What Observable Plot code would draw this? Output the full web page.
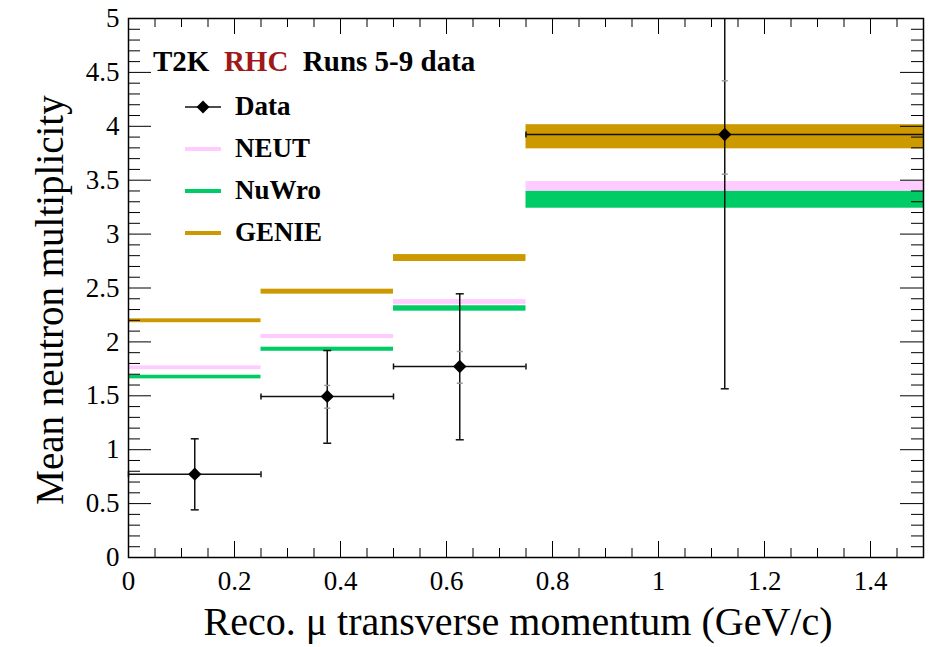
<!DOCTYPE html>
<html><head><meta charset="utf-8">
<script src="https://cdn.jsdelivr.net/npm/d3@7"></script>
<script src="https://cdn.jsdelivr.net/npm/@observablehq/plot@0.6"></script>
<style>
body{margin:0;background:#fff;}
#wrap{position:relative;width:937px;height:647px;}
#wrap svg{display:block;}
#chart svg text{font-family:"Liberation Serif","Times New Roman",serif;}
#legend{position:absolute;left:0;top:0;font-family:"Liberation Serif","Times New Roman",serif;font-weight:bold;color:#000;}
.lg{position:absolute;white-space:nowrap;line-height:1;}
</style>
</head><body><div id="wrap"><div id="chart"></div><div id="legend"></div></div>
<script>
// ---- data ----
const binLow  = [0, 0.25, 0.5, 0.75];
const binHigh = [0.25, 0.5, 0.75, 1.5];
const binCenter = [0.125, 0.375, 0.625, 1.125];
const dataValue = [0.773, 1.494, 1.772, 3.924];
const dataLow   = [0.442, 1.060, 1.092, 1.565];
const dataHigh  = [1.101, 1.920, 2.446, 6.283];
const statLow   = [null, 1.385, 1.617, 3.556];
const statHigh  = [null, 1.596, 1.911, 4.422];
const neutValue  = [1.760, 2.050, 2.370, 3.441];
const neutErr    = [0.018, 0.019, 0.022, 0.047];
const nuwroValue = [1.674, 1.932, 2.310, 3.318];
const nuwroErr   = [0.017, 0.019, 0.025, 0.078];
const genieValue = [2.196, 2.466, 2.778, 3.903];
const genieErr   = [0.018, 0.023, 0.032, 0.112];
const xMajor = [0, 0.2, 0.4, 0.6, 0.8, 1, 1.2, 1.4];
const xMinor = [0.05, 0.1, 0.15, 0.25, 0.3, 0.35, 0.45, 0.5, 0.55, 0.65, 0.7, 0.75, 0.85, 0.9, 0.95,
                1.05, 1.1, 1.15, 1.25, 1.3, 1.35, 1.45];
const yMajor = [0, 0.5, 1, 1.5, 2, 2.5, 3, 3.5, 4, 4.5, 5];
const yMinor = [0.1, 0.2, 0.3, 0.4, 0.6, 0.7, 0.8, 0.9, 1.1, 1.2, 1.3, 1.4, 1.6, 1.7, 1.8, 1.9,
                2.1, 2.2, 2.3, 2.4, 2.6, 2.7, 2.8, 2.9, 3.1, 3.2, 3.3, 3.4, 3.6, 3.7, 3.8, 3.9,
                4.1, 4.2, 4.3, 4.4, 4.6, 4.7, 4.8, 4.9];
const xTitle = "Reco. μ transverse momentum (GeV/c)";
const yTitle = "Mean neutron multiplicity";
const models = [
  {name: "NEUT",  color: "#ffccff", values: neutValue,  errs: neutErr},
  {name: "NuWro", color: "#00cc66", values: nuwroValue, errs: nuwroErr},
  {name: "GENIE", color: "#cc9900", values: genieValue, errs: genieErr}
];

// ---- tables built from arrays ----
const bands = models.flatMap(m => m.values.map((v, i) => ({
  model: m.name, color: m.color, x1: binLow[i], x2: binHigh[i], y1: v - m.errs[i], y2: v + m.errs[i]
})));
const pts = dataValue.map((v, i) => ({x: binCenter[i], y: v, lo: dataLow[i], hi: dataHigh[i], x1: binLow[i], x2: binHigh[i]}));
const stats = statLow.flatMap((l, i) => l == null ? [] : [{x: binCenter[i], y: l}, {x: binCenter[i], y: statHigh[i]}]);

const hLine = {draw(ctx, size){ const r = Math.sqrt(size / Math.PI); ctx.moveTo(-r, 0); ctx.lineTo(r, 0); }};
const vLine = {draw(ctx, size){ const r = Math.sqrt(size / Math.PI); ctx.moveTo(0, -r); ctx.lineTo(0, r); }};

const W = 937, H = 647, mL = 128, mR = 14, mT = 18, mB = 90;
const innerW = W - mL - mR, innerH = H - mT - mB;
const font = '"Liberation Serif","Times New Roman",serif';
const fmt = d => `${d}`;

const chart = Plot.plot({
  width: W, height: H,
  marginLeft: mL, marginRight: mR, marginTop: mT, marginBottom: mB,
  style: {fontFamily: font, background: "#fff", color: "#000"},
  x: {domain: [0, 1.5], axis: null},
  y: {domain: [0, 5], clamp: true, axis: null},
  marks: [
    Plot.rect(bands, {x1: "x1", x2: "x2", y1: "y1", y2: "y2", fill: "color"}),
    // data error bars
    Plot.ruleY(pts, {y: "y", x1: "x1", x2: "x2", stroke: "#111", strokeWidth: 1.5}),
    Plot.ruleX(pts, {x: "x", y1: "lo", y2: "hi", stroke: "#111", strokeWidth: 1.5}),
    Plot.dot(pts, {x: "x", y: "lo", symbol: hLine, r: 4, fill: "none", stroke: "#111", strokeWidth: 1.5}),
    Plot.dot(pts.filter(d => d.hi <= 5), {x: "x", y: "hi", symbol: hLine, r: 4, fill: "none", stroke: "#111", strokeWidth: 1.5}),
    Plot.dot(pts, {x: "x1", y: "y", symbol: vLine, r: 3, fill: "none", stroke: "#111", strokeWidth: 1.5}),
    Plot.dot(pts.filter(d => d.x2 < 1.5), {x: "x2", y: "y", symbol: vLine, r: 3, fill: "none", stroke: "#111", strokeWidth: 1.5}),
    Plot.dot(stats, {x: "x", y: "y", symbol: hLine, r: 3, fill: "none", stroke: "#999", strokeWidth: 1.5}),
    Plot.dot(pts, {x: "x", y: "y", symbol: "diamond2", r: 6, fill: "#000", stroke: "none"}),
    // ticks inside frame (ROOT style)
    Plot.ruleX(xMinor, {x: d => d, insetTop: innerH - 9, stroke: "#000"}),
    Plot.ruleX(xMajor, {x: d => d, insetTop: innerH - 16, stroke: "#000"}),
    Plot.ruleX(xMinor, {x: d => d, insetBottom: innerH - 9, stroke: "#000"}),
    Plot.ruleX(xMajor, {x: d => d, insetBottom: innerH - 16, stroke: "#000"}),
    Plot.ruleY(yMinor, {y: d => d, insetRight: innerW - 12, stroke: "#000"}),
    Plot.ruleY(yMajor, {y: d => d, insetRight: innerW - 23, stroke: "#000"}),
    Plot.ruleY(yMinor, {y: d => d, insetLeft: innerW - 12, stroke: "#000"}),
    Plot.ruleY(yMajor, {y: d => d, insetLeft: innerW - 23, stroke: "#000"}),
    Plot.frame({stroke: "#000", strokeWidth: 1.5}),
    // tick labels
    Plot.text(xMajor, {x: d => d, text: fmt, frameAnchor: "bottom", lineAnchor: "top", dy: 13, fontSize: 27, fontFamily: font, fill: "#000"}),
    Plot.text(yMajor, {y: d => d, text: fmt, frameAnchor: "left", textAnchor: "end", lineAnchor: "middle", dx: -9, fontSize: 27, fontFamily: font, fill: "#000"}),
    // axis titles
    Plot.text([xTitle], {frameAnchor: "bottom", lineAnchor: "middle", dx: -8, dy: 65, fontSize: 40, fontFamily: font, text: d => d}),
    Plot.text([yTitle], {frameAnchor: "left", textAnchor: "middle", lineAnchor: "middle", dx: -78, dy: 12, rotate: -90, fontSize: 39, fontFamily: font, text: d => d})
  ]
});
document.getElementById("chart").appendChild(chart);

// ---- legend overlay ----
const lg = document.getElementById("legend");
const head = document.createElement("div");
head.className = "lg";
head.style.cssText = "left:153px;top:47px;font-size:29px;";
head.innerHTML = 'T2K&nbsp; <span style="color:#a01818">RHC</span>&nbsp; Runs 5-9 data';
lg.appendChild(head);
const entries = [{name: "Data", color: "#000", data: true}, ...models.map(m => ({name: m.name, color: m.color}))];
const entryY = [107, 149, 191, 233];
entries.forEach((e, i) => {
  const sw = document.createElementNS("http://www.w3.org/2000/svg", "svg");
  sw.setAttribute("width", 40); sw.setAttribute("height", 16);
  sw.style.cssText = `position:absolute;left:183px;top:${entryY[i] - 8}px;`;
  if (e.data) {
    sw.innerHTML = '<line x1="2" x2="38" y1="8" y2="8" stroke="#111" stroke-width="1.5"/><path d="M20,1.5L26.5,8L20,14.5L13.5,8Z" fill="#000"/>';
  } else {
    sw.innerHTML = `<line x1="2" x2="38" y1="8" y2="8" stroke="${e.color}" stroke-width="4"/>`;
  }
  lg.appendChild(sw);
  const t = document.createElement("div");
  t.className = "lg";
  t.style.cssText = `left:235px;top:${entryY[i] - 14}px;font-size:27px;`;
  t.textContent = e.name;
  lg.appendChild(t);
});
</script>
</body></html>
